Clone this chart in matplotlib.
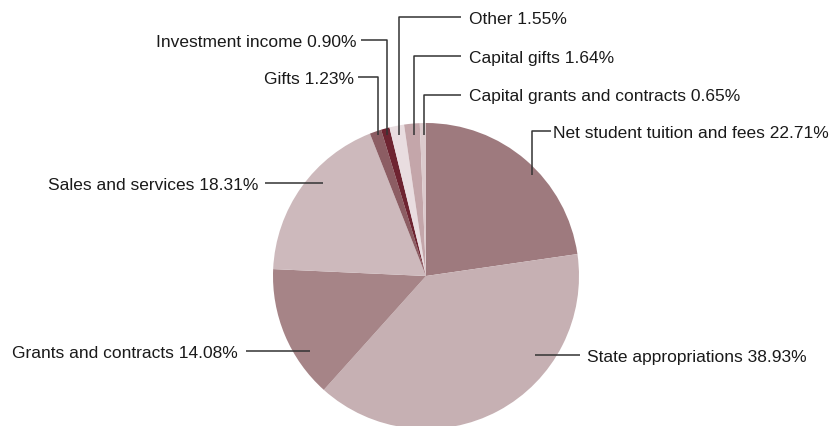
import matplotlib
matplotlib.use('Agg')
import matplotlib.pyplot as plt

# Revenue shares (percent), clockwise from 12 o'clock
categories = ['Net student tuition and fees', 'State appropriations', 'Grants and contracts',
              'Sales and services', 'Gifts', 'Investment income', 'Other',
              'Capital gifts', 'Capital grants and contracts']
shares = [22.71, 38.93, 14.08, 18.31, 1.23, 0.90, 1.55, 1.64, 0.65]
colors = ['#9e7a7e', '#c6b0b3', '#a68487', '#cdb9bc', '#8c5d63',
          '#6e2431', '#e9dde0', '#c4a6aa', '#dccacd']

# Leader line points (pixels, y down) and label side for each slice
leaders = [
    [(532, 176), (532, 132), (551, 132)],
    [(535, 356), (580, 356)],
    [(310, 352), (246, 352)],
    [(323, 184), (265, 184)],
    [(378, 136), (378, 78), (358, 78)],
    [(387, 136), (387, 41), (361, 41)],
    [(399, 136), (399, 17.5), (461, 17.5)],
    [(414, 136), (414, 57), (461, 57)],
    [(424, 136), (424, 95.5), (461, 95.5)],
]
gaps = [2, 7, 8, 7, 4, 4, 8, 8, 8]

W, H = 836, 427
fig = plt.figure(figsize=(W / 100, H / 100), dpi=100)
ax = fig.add_axes([0, 0, 1, 1])

ax.pie(shares, colors=colors, startangle=-90, counterclock=True,
       center=(426, 277), radius=153, wedgeprops=dict(linewidth=0))
ax.set_xlim(0, W)
ax.set_ylim(H, 0)
ax.set_aspect('equal')
ax.axis('off')

for name, val, pts, gap in zip(categories, shares, leaders, gaps):
    xs = [p[0] for p in pts]
    ys = [p[1] for p in pts]
    ax.plot(xs, ys, color='#333333', lw=1.1, solid_capstyle='butt', clip_on=False)
    right = xs[-1] > xs[-2]
    tx = xs[-1] + gap if right else xs[-1] - gap
    ax.text(tx, ys[-1], f'{name} {val:.2f}%', ha='left' if right else 'right',
            va='center_baseline', fontsize=12.5, family='Liberation Sans', color='#1a1a1a')

fig.savefig('out.png', dpi=100)
